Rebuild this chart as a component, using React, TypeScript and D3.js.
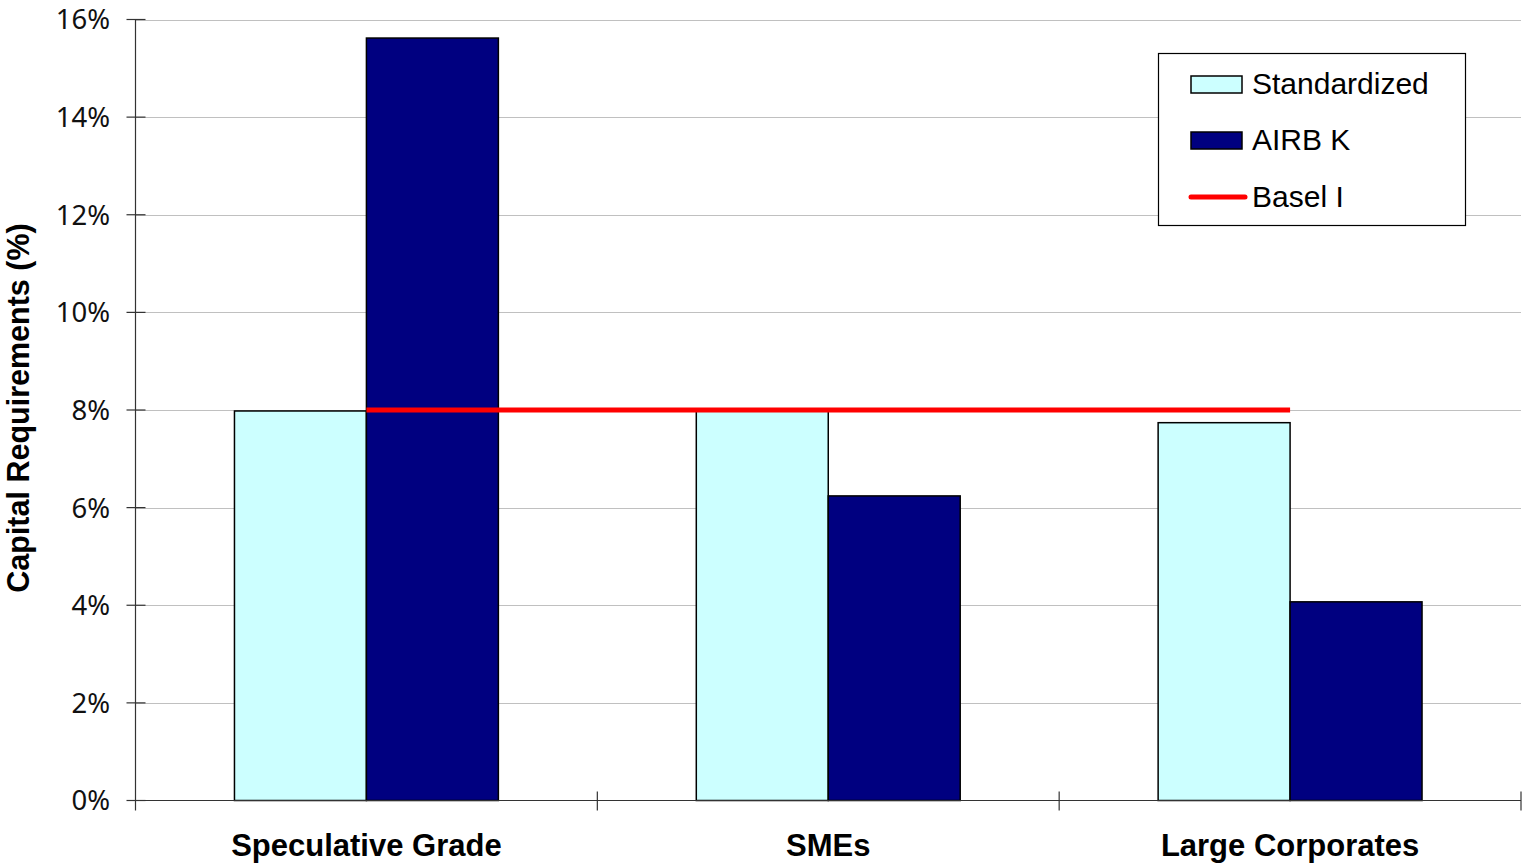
import React from "react";
import * as d3 from "d3";

const categories = ["Speculative Grade", "SMEs", "Large Corporates"];
const seriesNames = ["Standardized", "AIRB K"];
const standardized = [7.98, 8.0, 7.74];
const airbK = [15.62, 6.24, 4.07];
const baselI = [8, 8, 8];
const yTicks = [0, 2, 4, 6, 8, 10, 12, 14, 16];

const W = 1522;
const H = 865;
const left = 135.5;
const right = 1521;
const top = 19.5;
const bottom = 800.5;

const colors: Record<string, string> = { Standardized: "#CCFFFF", "AIRB K": "#000080" };

export default function App() {
  const x0 = d3.scaleBand<string>().domain(categories).range([left, right]).padding(0);
  const x1 = d3
    .scaleBand<string>()
    .domain(seriesNames)
    .range([0, x0.bandwidth()])
    .paddingInner(0)
    .paddingOuter(0.75);
  const y = d3.scaleLinear().domain([0, 16]).range([bottom, top]);
  const values: Record<string, number[]> = { Standardized: standardized, "AIRB K": airbK };
  const line = d3
    .line<number>()
    .x((_, i) => (x0(categories[i]) as number) + x0.bandwidth() / 2)
    .y((d) => y(d));

  const catBoundaries = categories.map((c) => (x0(c) as number) + x0.bandwidth());

  return (
    <svg width={W} height={H} style={{ position: "absolute", left: 0, top: 0 }}>
      <rect x={0} y={0} width={W} height={H} fill="#fff" />
      {yTicks.slice(1).map((t) => (
        <line key={"g" + t} x1={left} x2={right} y1={Math.round(y(t)) + 0.5} y2={Math.round(y(t)) + 0.5} stroke="#c0c0c0" strokeWidth={1} />
      ))}
      {seriesNames.map((s) =>
        categories.map((c, i) => {
          const bx = (x0(c) as number) + (x1(s) as number);
          const v = values[s][i];
          return (
            <rect
              key={s + c}
              x={bx}
              y={y(v)}
              width={x1.bandwidth()}
              height={bottom - y(v)}
              fill={colors[s]}
              stroke="#000"
              strokeWidth={1.5}
            />
          );
        })
      )}
      {/* axes */}
      <line x1={left} x2={left} y1={top} y2={bottom + 10} stroke="#333" strokeWidth={1.2} />
      <line x1={left} x2={right} y1={bottom} y2={bottom} stroke="#333" strokeWidth={1.2} />
      {yTicks.map((t) => (
        <g key={"t" + t}>
          <line x1={left - 9} x2={left + 10} y1={y(t)} y2={y(t)} stroke="#333" strokeWidth={1.2} />
          <text
            x={110}
            y={y(t)}
            dy="0.36em"
            textAnchor="end"
            fontFamily="'Noto Sans', 'Open Sans', sans-serif"
            fontSize={27.5}
            fill="#111"
          >
            {t}%
          </text>
        </g>
      ))}
      {catBoundaries.map((bx, i) => (
        <line key={"ct" + i} x1={bx} x2={bx} y1={bottom - 9} y2={bottom + 10} stroke="#333" strokeWidth={1.2} />
      ))}
      {categories.map((c) => (
        <text
          key={"cl" + c}
          x={(x0(c) as number) + x0.bandwidth() / 2}
          y={856}
          textAnchor="middle"
          fontFamily="'Liberation Sans', Arial, sans-serif"
          fontWeight="bold"
          fontSize={31}
          fill="#000"
        >
          {c}
        </text>
      ))}
      <path d={line(baselI) || ""} fill="none" stroke="#FF0000" strokeWidth={5} />
      <text
        transform={`translate(29, ${408}) rotate(-90)`}
        textAnchor="middle"
        fontFamily="'Liberation Sans', Arial, sans-serif"
        fontWeight="bold"
        fontSize={30.5}
        fill="#000"
      >
        Capital Requirements (%)
      </text>
      {/* legend */}
      <g>
        <rect x={1158.5} y={53.5} width={307} height={172} fill="#fff" stroke="#000" strokeWidth={1.2} />
        <rect x={1191} y={76} width={51} height={17} fill={colors["Standardized"]} stroke="#000" strokeWidth={1.5} />
        <text x={1252} y={94} fontFamily="'Liberation Sans', Arial, sans-serif" fontSize={30} fill="#000">
          Standardized
        </text>
        <rect x={1191} y={132} width={51} height={17} fill={colors["AIRB K"]} stroke="#000" strokeWidth={1.5} />
        <text x={1252} y={150} fontFamily="'Liberation Sans', Arial, sans-serif" fontSize={30} fill="#000">
          AIRB K
        </text>
        <line x1={1191} x2={1245} y1={197} y2={197} stroke="#FF0000" strokeWidth={5} strokeLinecap="round" />
        <text x={1252} y={207} fontFamily="'Liberation Sans', Arial, sans-serif" fontSize={30} fill="#000">
          Basel I
        </text>
      </g>
    </svg>
  );
}
